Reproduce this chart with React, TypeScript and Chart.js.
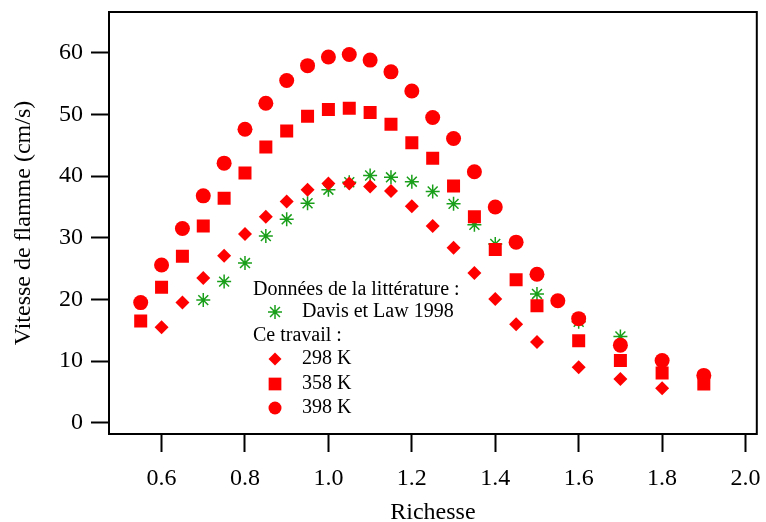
import React, { useEffect, useRef } from 'react';
import { Chart, registerables } from 'chart.js';

Chart.register(...registerables);

// ---- data ----
const davisX = [0.7, 0.75, 0.8, 0.85, 0.9, 0.95, 1.0, 1.05, 1.1, 1.15, 1.2, 1.25, 1.3, 1.35, 1.4, 1.5, 1.6, 1.7];
const davisY = [19.9, 22.9, 25.9, 30.3, 33.0, 35.6, 37.8, 39.0, 40.1, 39.8, 39.1, 37.5, 35.5, 32.1, 29.0, 20.9, 16.4, 14.0];

const t298X = [0.6, 0.65, 0.7, 0.75, 0.8, 0.85, 0.9, 0.95, 1.0, 1.05, 1.1, 1.15, 1.2, 1.25, 1.3, 1.35, 1.4, 1.45, 1.5, 1.6, 1.7, 1.8];
const t298Y = [15.5, 19.5, 23.5, 27.1, 30.6, 33.4, 35.9, 37.8, 38.8, 38.8, 38.3, 37.6, 35.1, 31.9, 28.4, 24.3, 20.1, 16.0, 13.1, 9.0, 7.1, 5.6];

const t358X = [0.55, 0.6, 0.65, 0.7, 0.75, 0.8, 0.85, 0.9, 0.95, 1.0, 1.05, 1.1, 1.15, 1.2, 1.25, 1.3, 1.35, 1.4, 1.45, 1.5, 1.6, 1.7, 1.8, 1.9];
const t358Y = [16.5, 22.0, 27.0, 31.9, 36.4, 40.5, 44.7, 47.3, 49.7, 50.8, 51.0, 50.3, 48.4, 45.4, 42.9, 38.4, 33.4, 28.1, 23.2, 19.0, 13.3, 10.1, 8.1, 6.3];

const t398X = [0.55, 0.6, 0.65, 0.7, 0.75, 0.8, 0.85, 0.9, 0.95, 1.0, 1.05, 1.1, 1.15, 1.2, 1.25, 1.3, 1.35, 1.4, 1.45, 1.5, 1.55, 1.6, 1.7, 1.8, 1.9];
const t398Y = [19.5, 25.6, 31.5, 36.8, 42.1, 47.6, 51.8, 55.5, 57.9, 59.3, 59.7, 58.8, 56.9, 53.8, 49.5, 46.1, 40.7, 35.0, 29.3, 24.1, 19.8, 16.9, 12.6, 10.1, 7.7];

const seriesLabels = ['Davis et Law 1998', '298 K', '358 K', '398 K'];
const legendHeaders = ['Données de la littérature :', 'Ce travail :'];
const xTitle = 'Richesse';
const yTitle = 'Vitesse de flamme (cm/s)';

const RED = '#ff0000';
const GREEN = '#1a9f1a';
const FONT = '"Liberation Serif", "Times New Roman", serif';

const pts = (xs: number[], ys: number[]) => xs.map((x, i) => ({ x, y: ys[i] }));

function drawMarker(ctx: CanvasRenderingContext2D, style: string, x: number, y: number, r: number, color: string) {
  ctx.save();
  ctx.fillStyle = color;
  ctx.strokeStyle = color;
  ctx.beginPath();
  if (style === 'circle') {
    ctx.arc(x, y, r, 0, Math.PI * 2);
    ctx.fill();
  } else if (style === 'rect') {
    const h = r * Math.SQRT1_2;
    ctx.rect(x - h, y - h, 2 * h, 2 * h);
    ctx.fill();
  } else if (style === 'rectRot') {
    ctx.moveTo(x, y - r);
    ctx.lineTo(x + r, y);
    ctx.lineTo(x, y + r);
    ctx.lineTo(x - r, y);
    ctx.closePath();
    ctx.fill();
  } else if (style === 'star') {
    ctx.lineWidth = 1.5;
    for (let k = 0; k < 4; k++) {
      const a = (k * Math.PI) / 4;
      ctx.moveTo(x - Math.cos(a) * r, y - Math.sin(a) * r);
      ctx.lineTo(x + Math.cos(a) * r, y + Math.sin(a) * r);
    }
    ctx.stroke();
  }
  ctx.restore();
}

const framePlugin = {
  id: 'frame',
  afterDatasetsDraw(chart: any) {
    const { ctx, chartArea } = chart;
    ctx.save();
    ctx.strokeStyle = '#000';
    ctx.lineWidth = 2;
    ctx.strokeRect(chartArea.left, chartArea.top, chartArea.right - chartArea.left, chartArea.bottom - chartArea.top);
    ctx.restore();
  },
};

const legendPlugin = {
  id: 'customLegend',
  afterDraw(chart: any) {
    const ctx = chart.ctx as CanvasRenderingContext2D;
    const ds = chart.data.datasets;
    ctx.save();
    ctx.font = '20px ' + FONT;
    ctx.fillStyle = '#000';
    ctx.textBaseline = 'middle';
    ctx.textAlign = 'left';
    const hx = 253;
    const mx = 275;
    const tx = 302;
    ctx.fillText(legendHeaders[0], hx, 290);
    drawMarker(ctx, 'star', mx, 312, 7, GREEN);
    ctx.fillText(ds[0].label, tx, 312);
    ctx.fillText(legendHeaders[1], hx, 336);
    const rows = [
      { i: 1, y: 359, style: 'rectRot', r: 6.5 },
      { i: 2, y: 384, style: 'rect', r: 9 },
      { i: 3, y: 408, style: 'circle', r: 6.5 },
    ];
    rows.forEach((row) => {
      drawMarker(ctx, row.style, mx, row.y, row.r, RED);
      ctx.fillStyle = '#000';
      ctx.fillText(ds[row.i].label, tx, row.y);
    });
    ctx.restore();
  },
};

const zeroPad = (s: any) => {
  s.paddingTop = 0;
  s.paddingBottom = 0;
  s.paddingLeft = 0;
  s.paddingRight = 0;
};

export default function App() {
  const ref = useRef<HTMLCanvasElement | null>(null);

  useEffect(() => {
    if (!ref.current) return;
    Chart.defaults.font.family = FONT;
    const chart = new Chart(ref.current, {
      type: 'scatter',
      data: {
        datasets: [
          {
            label: seriesLabels[0],
            data: pts(davisX, davisY),
            pointStyle: 'star',
            pointRadius: 7,
            borderColor: GREEN,
            backgroundColor: GREEN,
            pointBorderWidth: 1.5,
            order: 4,
          },
          {
            label: seriesLabels[1],
            data: pts(t298X, t298Y),
            pointStyle: 'rectRot',
            pointRadius: 7,
            backgroundColor: RED,
            borderColor: RED,
            pointBorderWidth: 0,
            order: 1,
          },
          {
            label: seriesLabels[2],
            data: pts(t358X, t358Y),
            pointStyle: 'rect',
            pointRadius: 9.2,
            backgroundColor: RED,
            borderColor: RED,
            pointBorderWidth: 0,
            order: 2,
          },
          {
            label: seriesLabels[3],
            data: pts(t398X, t398Y),
            pointStyle: 'circle',
            pointRadius: 7.5,
            backgroundColor: RED,
            borderColor: RED,
            pointBorderWidth: 0,
            order: 3,
          },
        ],
      },
      options: {
        animation: false,
        responsive: true,
        maintainAspectRatio: false,
        layout: { padding: { top: 12, right: 7, left: 0, bottom: 0 } },
        plugins: {
          legend: { display: false },
          tooltip: { enabled: false },
        },
        scales: {
          x: {
            type: 'linear',
            min: 0.474,
            max: 2.027,
            afterFit: (s: any) => {
              s.height = 88;
              zeroPad(s);
            },
            ticks: {
              stepSize: 0.2,
              includeBounds: false,
              padding: 12,
              color: '#000',
              font: { size: 24, family: FONT },
              maxRotation: 0,
              callback: (v: any) => Number(v).toFixed(1),
            },
            grid: {
              display: true,
              drawOnChartArea: false,
              drawTicks: true,
              tickLength: 18,
              tickWidth: 2,
              tickColor: '#000',
              color: '#000',
            },
            border: { display: true, color: '#000', width: 2 },
            title: {
              display: true,
              text: xTitle,
              color: '#000',
              font: { size: 24, family: FONT, lineHeight: 0.8 },
              padding: { top: 0, bottom: 0 },
            },
          },
          y: {
            type: 'linear',
            min: -1.8,
            max: 66.6,
            afterFit: (s: any) => {
              s.width = 109;
              zeroPad(s);
            },
            ticks: {
              stepSize: 10,
              includeBounds: false,
              padding: 8,
              color: '#000',
              font: { size: 24, family: FONT },
              callback: (v: any) => String(Math.round(Number(v))),
            },
            grid: {
              display: true,
              drawOnChartArea: false,
              drawTicks: true,
              tickLength: 18,
              tickWidth: 2,
              tickColor: '#000',
              color: '#000',
            },
            border: { display: true, color: '#000', width: 2 },
            title: {
              display: true,
              text: yTitle,
              color: '#000',
              font: { size: 24, family: FONT },
              padding: { top: 9, bottom: 0 },
            },
          },
        },
      },
      plugins: [framePlugin, legendPlugin],
    } as any);
    return () => chart.destroy();
  }, []);

  return (
    <div style={{ position: 'fixed', left: 0, top: 0, width: 766, height: 522, background: '#fff' }}>
      <canvas ref={ref} />
    </div>
  );
}
